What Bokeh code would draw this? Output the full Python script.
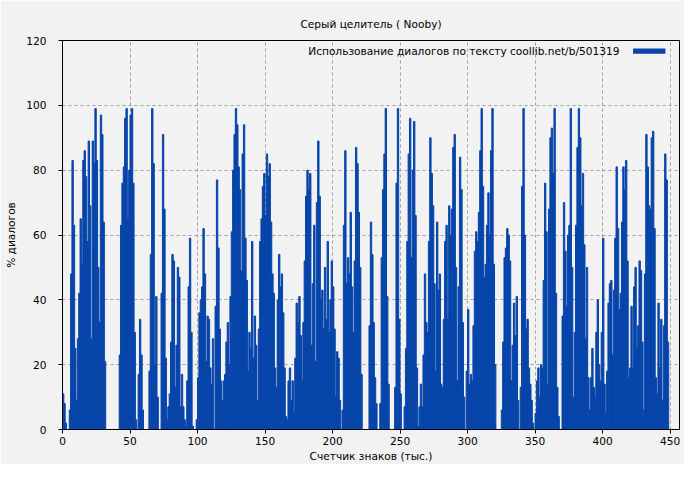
from bokeh.plotting import figure
from bokeh.models import ColumnDataSource, Label, BoxAnnotation, FixedTicker
from bokeh.embed import file_html
from bokeh.resources import INLINE

# --- data: % of dialogue per thousand characters ---
pct_000_049 = [11, 8, 2, 0, 0, 6, 48, 83, 63, 25, 9, 28, 42, 65, 51, 83, 86, 78, 58, 89,
               69, 28, 89, 82, 99, 83, 50, 33, 97, 91, 64, 21, 0, 0, 0, 0, 0, 0, 0, 0,
               0, 0, 23, 63, 76, 81, 96, 99, 65, 80]
pct_050_099 = [97, 99, 76, 30, 3, 0, 17, 34, 23, 6, 0, 0, 0, 0, 18, 54, 99, 82, 20, 41,
               10, 0, 0, 42, 91, 68, 22, 3, 7, 11, 27, 54, 52, 13, 26, 50, 47, 7, 17, 7,
               3, 1, 15, 44, 59, 30, 1, 0, 0, 3]
pct_100_149 = [16, 36, 40, 44, 62, 48, 21, 35, 34, 19, 14, 28, 0, 38, 77, 56, 31, 15, 9, 15,
               17, 27, 33, 20, 41, 61, 80, 91, 99, 94, 81, 74, 49, 85, 94, 59, 46, 18, 30, 25,
               58, 22, 35, 26, 9, 31, 58, 65, 75, 79]
pct_150_199 = [66, 85, 78, 82, 64, 48, 42, 19, 13, 40, 54, 44, 48, 36, 19, 4, 3, 15, 19, 9,
               15, 5, 22, 39, 33, 41, 29, 15, 33, 52, 72, 80, 74, 79, 26, 45, 63, 21, 70, 89,
               72, 40, 43, 31, 50, 34, 58, 30, 40, 52]
pct_200_249 = [44, 31, 10, 24, 22, 9, 0, 6, 63, 86, 45, 53, 48, 67, 44, 30, 52, 87, 82, 67,
               50, 17, 0, 0, 0, 0, 0, 32, 64, 54, 33, 16, 8, 0, 0, 8, 53, 74, 85, 99,
               41, 14, 0, 0, 0, 0, 13, 76, 99, 34]
pct_250_299 = [11, 0, 0, 7, 25, 58, 85, 96, 53, 80, 95, 66, 19, 1, 7, 14, 7, 23, 48, 33,
               30, 58, 90, 79, 69, 45, 18, 64, 43, 48, 14, 13, 34, 58, 63, 34, 69, 60, 68, 87,
               91, 50, 15, 44, 84, 74, 33, 10, 0, 18]
pct_300_349 = [37, 14, 17, 15, 32, 55, 61, 58, 67, 86, 99, 75, 47, 51, 63, 73, 60, 86, 99, 51,
               20, 0, 0, 0, 0, 6, 27, 53, 56, 62, 60, 52, 15, 26, 39, 29, 41, 9, 0, 13,
               75, 99, 60, 31, 34, 19, 14, 9, 2, 0]
pct_350_399 = [5, 15, 19, 10, 20, 19, 46, 76, 61, 14, 68, 90, 93, 79, 99, 42, 13, 4, 0, 0,
               35, 70, 55, 38, 60, 63, 99, 50, 10, 30, 63, 87, 99, 90, 69, 79, 57, 28, 50, 16,
               6, 16, 25, 13, 10, 30, 40, 20, 15, 30]
pct_400_448 = [59, 14, 5, 18, 39, 45, 46, 23, 43, 59, 81, 62, 37, 42, 64, 81, 74, 83, 52, 16,
               19, 38, 19, 44, 50, 25, 32, 52, 49, 27, 6, 48, 91, 81, 69, 68, 90, 92, 62, 16,
               11, 39, 19, 34, 9, 32, 85, 77, 27]

x_ticks = [0, 50, 100, 150, 200, 250, 300, 350, 400, 450]
y_ticks = [0, 20, 40, 60, 80, 100, 120]

title_text = "Серый целитель ( Nooby)"
legend_text = "Использование диалогов по тексту  coollib.net/b/501319"
x_label = "Счетчик знаков (тыс.)"
y_label = "% диалогов"

values = (pct_000_049 + pct_050_099 + pct_100_149 + pct_150_199 + pct_200_249 +
          pct_250_299 + pct_300_349 + pct_350_399 + pct_400_448)
xs = [i + 0.5 for i in range(len(values))]

BLUE = "#0745aa"
BG = "#f2f2f2"
FONT = "DejaVu Sans"
FS = "10.6px"

src = ColumnDataSource(dict(x=xs, top=values))

p = figure(width=684, height=464, x_range=(0, 457), y_range=(0, 120),
           output_backend="svg", toolbar_location=None,
           background_fill_color=BG, border_fill_color=BG,
           min_border_left=62, min_border_right=5, min_border_top=40, min_border_bottom=33)

p.vbar(x="x", top="top", width=1.0, source=src, fill_color=BLUE,
       line_color=BLUE, line_width=1.0)

# title
p.title.text = title_text
p.title.align = "center"
p.title.text_font = FONT
p.title.text_font_size = FS
p.title.text_font_style = "normal"
p.title.text_color = "#000000"
p.title.standoff = 22

# axes
for ax in (p.xaxis[0], p.yaxis[0]):
    ax.axis_line_color = "black"
    ax.major_tick_line_color = "black"
    ax.major_tick_out = 4
    ax.major_tick_in = 0
    ax.minor_tick_line_color = None
    ax.major_label_text_font = FONT
    ax.major_label_text_font_size = FS
    ax.major_label_text_color = "#000000"
    ax.axis_label_text_font = FONT
    ax.axis_label_text_font_size = FS
    ax.axis_label_text_font_style = "normal"
    ax.axis_label_text_color = "#000000"

p.xaxis.ticker = FixedTicker(ticks=x_ticks)
p.yaxis.ticker = FixedTicker(ticks=y_ticks)
p.xaxis.axis_label = x_label
p.yaxis.axis_label = y_label
p.xaxis.major_label_standoff = 3
p.xaxis.axis_label_standoff = 2
p.yaxis.major_label_standoff = 12
p.yaxis.axis_label_standoff = 6

# grid
for g in (p.xgrid[0], p.ygrid[0]):
    g.grid_line_color = "#a0a0a0"
    g.grid_line_dash = "3 3"
    g.grid_line_width = 1
p.xgrid.ticker = FixedTicker(ticks=x_ticks)
p.ygrid.ticker = FixedTicker(ticks=y_ticks)

p.outline_line_color = "black"
p.outline_line_width = 1
p.outline_line_alpha = 1.0

# legend (text then swatch, right aligned at top)
p.add_layout(Label(x=415, y=116.9, text=legend_text, text_align="right",
                   text_baseline="middle", text_font=FONT, text_font_size=FS,
                   text_color="#000000"))
p.add_layout(BoxAnnotation(left=422.6, right=446.6, bottom=115.9, top=117.5,
                           fill_color=BLUE, fill_alpha=1.0, line_color=None))

open("out.html", "w").write(file_html(p, INLINE))
